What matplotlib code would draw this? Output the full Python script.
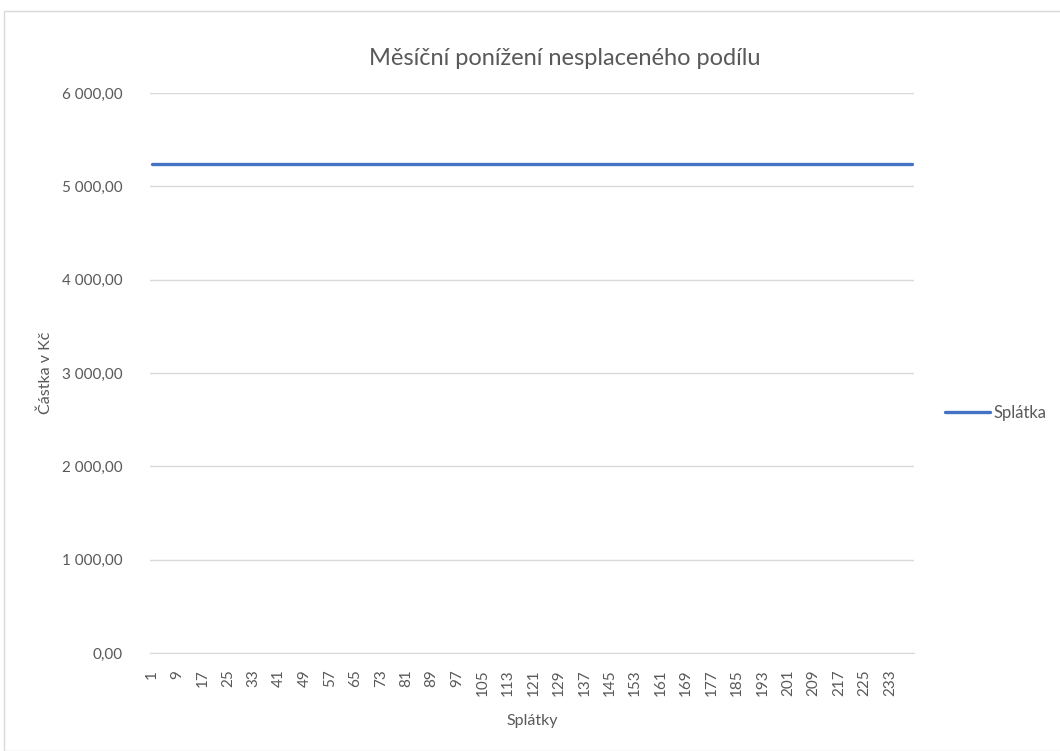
import matplotlib
matplotlib.use('Agg')
import matplotlib.pyplot as plt
from matplotlib.patches import Rectangle

# data: constant monthly payment over 240 instalments
splatky = list(range(1, 241))
splatka = [5240.0] * 240
y_ticks = [0, 1000, 2000, 3000, 4000, 5000, 6000]
x_tick_labels = list(range(1, 241, 8))

plt.rcParams['font.family'] = ['Lato', 'DejaVu Sans']
txt = '#595959'

fig = plt.figure(figsize=(10.6, 7.51), dpi=100)
ax = fig.add_axes([0.1415, 0.1305, 0.7205, 0.7455])

ax.plot(splatky, splatka, color='#4472C4', lw=2.4, solid_capstyle='round', label='Splátka')

ax.set_xlim(0.5, 240.5)
ax.set_ylim(0, 6000)
ax.set_yticks(y_ticks)
ax.set_yticklabels([f'{v:,.2f}'.replace(',', ' ').replace('.', ',') for v in y_ticks])
ax.set_xticks(x_tick_labels)
ax.set_xticklabels([str(v) for v in x_tick_labels], rotation=90)
ax.tick_params(length=0, labelsize=11, colors=txt)
ax.tick_params(axis='y', pad=20)
ax.tick_params(axis='x', pad=12)
ax.grid(axis='y', color='#D9D9D9', lw=1)
ax.set_axisbelow(True)
for s in ['top', 'right', 'left']:
    ax.spines[s].set_visible(False)
ax.spines['bottom'].set_color('#D9D9D9')

ax.set_xlabel('Splátky', fontsize=11.5, color=txt, labelpad=13)
ax.set_ylabel('Částka v Kč', fontsize=11.5, color=txt, labelpad=6)
fig.text(0.533, 0.922, 'Měsíční ponížení nesplaceného podílu', ha='center', va='center',
         fontsize=17, color=txt)

ax.legend(loc='center left', bbox_to_anchor=(1.0406, 0.4286), frameon=False, fontsize=12,
          labelcolor=txt, handlelength=2.7, handletextpad=0.2, borderpad=0, borderaxespad=0)

fig.patches.append(Rectangle((0.004, 0.0), 1.2, 0.985, transform=fig.transFigure,
                             fill=False, edgecolor='#D9D9D9', lw=1))

fig.savefig('out.png', dpi=100)
